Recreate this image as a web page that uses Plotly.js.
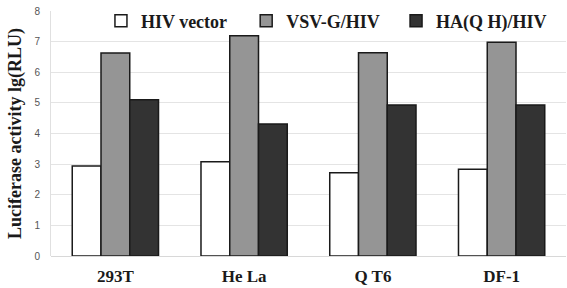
<!DOCTYPE html>
<html><head><meta charset="utf-8">
<script src="https://cdn.plot.ly/plotly-3.0.1.min.js"></script>
<style>html,body{margin:0;padding:0;background:#fff}#c{width:567px;height:288px}</style>
</head><body><div id="c"></div>
<script>
const categories = ["293T", "He La", "Q T6", "DF-1"];
const hivVector = [2.94, 3.08, 2.72, 2.83];
const vsvg = [6.63, 7.19, 6.64, 6.98];
const haqh = [5.10, 4.31, 4.93, 4.93];
const seriesNames = ["HIV vector", "VSV-G/HIV", "HA(Q H)/HIV"];
const colors = ["#ffffff", "#959595", "#333333"];
const yTicks = [0,1,2,3,4,5,6,7,8];
const legendIds = ['legend', 'legend2', 'legend3'];
const legendX = [0.097, 0.379, 0.67];

const data = [hivVector, vsvg, haqh].map((v,i)=>({
  type:'bar', x:categories, y:v, name:seriesNames[i], legend:legendIds[i],
  marker:{color:colors[i], line:{color:'#1a1a1a', width:1.5}}
}));
const legFont = {size:18, family:'"Liberation Serif", serif', weight:'bold', color:'#1a1a1a'};
const layout = {
  width:567, height:288,
  margin:{l:51, r:1, t:11, b:32},
  paper_bgcolor:'#fff', plot_bgcolor:'#fff',
  barmode:'group', bargap:0.33, bargroupgap:0,
  font:{family:'"Liberation Serif", "Times New Roman", serif', color:'#1a1a1a'},
  xaxis:{showgrid:false, zeroline:false, showline:false, ticks:'', ticklabelstandoff:8, automargin:false,
    tickfont:{size:17, family:'"Liberation Serif", serif', weight:'bold', color:'#1a1a1a'}},
  yaxis:{range:[0,8], tickvals:yTicks, showgrid:true, gridcolor:'#e4e4e4', gridwidth:1, automargin:false,
    zeroline:true, zerolinecolor:'#d8d8d8', showline:true, linecolor:'#e0e0e0',
    ticks:'', ticklen:0, ticklabelstandoff:8,
    tickfont:{size:10, family:'"Liberation Sans", Arial, sans-serif', color:'#555'},
    title:{text:'Luciferase activity lg(RLU)', standoff:8,
      font:{size:18, family:'"Liberation Serif", serif', weight:'bold', color:'#1a1a1a'}}},
  showlegend:true
};
legendIds.forEach((id,i)=>{
  layout[id] = {orientation:'h', x:legendX[i], y:1.035, xanchor:'left', yanchor:'top',
    bgcolor:'rgba(0,0,0,0)', itemwidth:30, font:legFont};
});
Plotly.newPlot('c', data, layout, {displayModeBar:false, staticPlot:true});
</script></body></html>
